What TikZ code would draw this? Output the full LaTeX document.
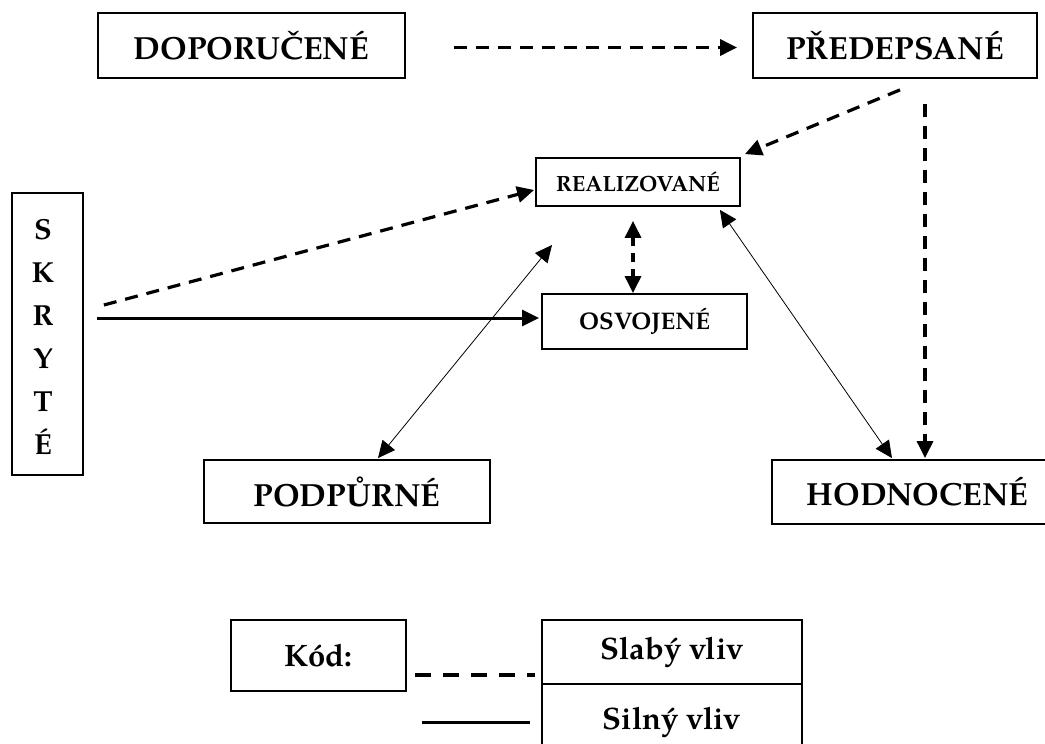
\documentclass[tikz,border=0pt]{standalone}
\usepackage{fontspec}
\setmainfont{texgyrepagella}[Extension=.otf,UprightFont=*-regular,BoldFont=*-bold,ItalicFont=*-italic,BoldItalicFont=*-bolditalic]
\usetikzlibrary{arrows.meta}
\tikzset{
  box/.style={draw,line width=1.8pt,inner sep=0pt,font=\bfseries},
  big/.style={font=\bfseries\fontsize{32}{38}\selectfont},
  weak/.style={line width=3.2pt,dash pattern=on 13pt off 9pt},
  strong/.style={line width=3pt},
  thin/.style={line width=0.8pt},
  tip/.style={-{Triangle[length=17pt,width=16pt]}},
  tips/.style={{Triangle[length=17pt,width=16pt]}-{Triangle[length=17pt,width=16pt]}},
}
\begin{document}
\begin{tikzpicture}[x=1pt,y=-1pt]
\useasboundingbox (0,0) rectangle (1045,744);
\clip (0,0) rectangle (1045,744);
% nodes
\node[box,big,minimum width=307pt,minimum height=65pt] (dop) at (251.5,45.5) {DOPORUČENÉ};
\node[box,big,minimum width=284pt,minimum height=65pt] (pred) at (895,45.5) {PŘEDEPSANÉ};
\node[box,font=\bfseries\fontsize{22}{26}\selectfont,minimum width=204pt,minimum height=48pt] (rea) at (638,182) {REALIZOVANÉ};
\node[box,font=\bfseries\fontsize{24}{28}\selectfont,minimum width=205pt,minimum height=55pt] (osv) at (644.5,321.5) {OSVOJENÉ};
\node[box,minimum width=71pt,minimum height=282pt] (skr) at (47.5,334) {};
\node[font=\bfseries\fontsize{29}{43}\selectfont,align=center,inner sep=0pt] (skrt) at (43,337) {S\\K\\R\\Y\\T\\É};
\node[box,big,minimum width=286pt,minimum height=63pt] (pod) at (347,491.5) {PODPŮRNÉ};
\node[box,big,minimum width=291pt,minimum height=64pt] (hod) at (917.5,492) {HODNOCENÉ};
\coordinate (free) at (552,245);
% connectors
\draw[weak,tip] ([shift={(48,2)}]dop.east) -- ([shift={(-15,2)}]pred.west);
\draw[weak,tip] ([shift={(5,11)}]pred.south) -- ([shift={(4,-3)}]rea.north east);
\draw[weak,tip] ([shift={(30,25)}]pred.south) -- ([shift={(7.5,-1)}]hod.north);
\draw[weak,tip] ([shift={(20,-29)}]skr.east) -- ([shift={(-1,8)}]rea.west);
\draw[strong,tip] ([shift={(13,-16)}]skr.east) -- ([shift={(-2,-3.5)}]osv.west);
\draw[weak,tips,dash pattern=on 9pt off 7pt] ([shift={(-5,14)}]rea.south) -- ([shift={(-11.5,0)}]osv.north);
\draw[thin,tips] ([shift={(31,-1)}]pod.north) -- (free);
\draw[thin,tips] ([shift={(-21,3)}]rea.south east) -- ([shift={(-25.5,-1)}]hod.north);
% legend
\node[box,font=\bfseries\fontsize{31}{36}\selectfont,minimum width=175pt,minimum height=71pt] (kod) at (318.5,655.5) {Kód:};
\node[font=\bfseries\fontsize{31}{36}\selectfont,inner sep=0pt,minimum width=260pt,minimum height=64pt] (slab) at (672,652) {Slabý vliv};
\node[font=\bfseries\fontsize{31}{36}\selectfont,inner sep=0pt,minimum width=260pt,minimum height=60pt] (siln) at (672,722) {Silný vliv};
\draw[line width=1.8pt] (slab.south west |- 0,760) -- (slab.north west) -- (slab.north east) -- (slab.south east |- 0,760);
\draw[line width=1.8pt] (542,684) -- (802,684);
\coordinate (wl1) at (415,675);
\coordinate (wl2) at (535,675);
\coordinate (sl1) at (422,722);
\coordinate (sl2) at (530,722);
\draw[line width=3.2pt,dash pattern=on 16pt off 12pt] (wl1) -- (wl2);
\draw[strong] (sl1) -- (sl2);
\end{tikzpicture}
\end{document}
